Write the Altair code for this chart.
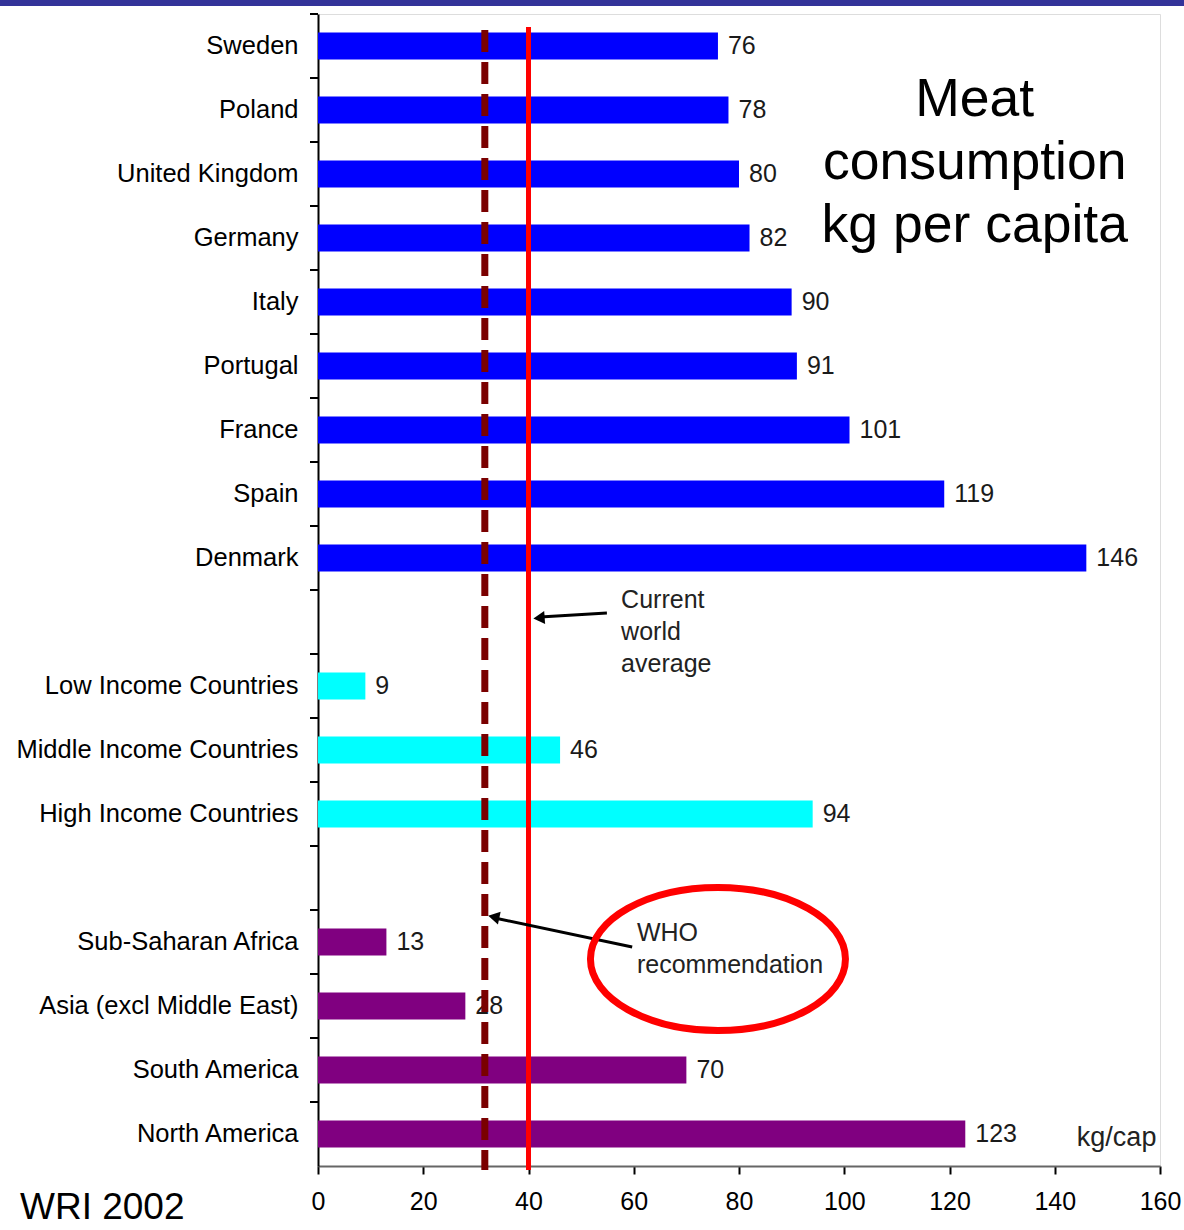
import altair as alt
import pandas as pd

FONT = "Liberation Sans"

categories = ["Sweden", "Poland", "United Kingdom", "Germany", "Italy", "Portugal",
              "France", "Spain", "Denmark", " ",
              "Low Income Countries", "Middle Income Countries", "High Income Countries", "  ",
              "Sub-Saharan Africa", "Asia (excl Middle East)", "South America", "North America"]
values = [76, 78, 80, 82, 90, 91, 101, 119, 146, None, 9, 46, 94, None, 13, 28, 70, 123]
groups = ["country"] * 9 + [None] + ["income"] * 3 + [None] + ["region"] * 4

group_names = ["country", "income", "region"]
group_colors = ["#0000ff", "#00ffff", "#800080"]

world_average = 40
who_recommendation = 31.7
x_ticks = [0, 20, 40, 60, 80, 100, 120, 140, 160]

df = pd.DataFrame({"category": categories, "value": values, "group": groups}).dropna()
one = pd.DataFrame({"k": [0]})

xscale = alt.Scale(domain=[0, 160], nice=False, zero=True)
yscale = alt.Scale(domain=categories, paddingInner=0, paddingOuter=0)

X = alt.X("value:Q", scale=xscale, title=None,
          axis=alt.Axis(values=x_ticks, grid=False, domainColor="#666666", domainWidth=2,
                        tickColor="#000000", tickWidth=2, tickSize=8, labelFontSize=25,
                        labelPadding=15, labelColor="#000000", labelFont=FONT,
                        labelFlush=False, labelOverlap=False))
Y = alt.Y("category:N", scale=yscale, sort=categories, title=None,
          axis=alt.Axis(ticks=False, domainColor="#000000", domainWidth=2, labelFontSize=25.5,
                        labelPadding=20, labelColor="#000000", labelFont=FONT, labelLimit=400))

bars = alt.Chart(df).mark_bar(size=27).encode(
    x=X, y=Y,
    color=alt.Color("group:N", scale=alt.Scale(domain=group_names, range=group_colors), legend=None),
)
labels = alt.Chart(df).mark_text(align="left", baseline="middle", dx=10, fontSize=25,
                                 font=FONT, color="#1a1a1a").encode(
    x=alt.X("value:Q", scale=xscale), y=alt.Y("category:N", scale=yscale, sort=categories),
    text=alt.Text("value:Q"))

ytick_df = pd.DataFrame({"category": categories})
yticks = alt.Chart(ytick_df).mark_rule(color="#000000", strokeWidth=2).encode(
    y=alt.Y("category:N", scale=yscale, sort=categories, bandPosition=0),
    x=alt.value(-8), x2=alt.value(0))

red_line = alt.Chart(one).mark_rule(color="#ff0000", strokeWidth=5).encode(
    x=alt.datum(world_average), y=alt.value(13), y2=alt.value(1156))
who_line = alt.Chart(one).mark_rule(color="#7a0000", strokeWidth=7, strokeDash=[22, 10]).encode(
    x=alt.datum(who_recommendation), y=alt.value(16), y2=alt.value(1156))

arrow1 = alt.Chart(one).mark_rule(color="#000000", strokeWidth=3).encode(
    x=alt.datum(54.9), x2=alt.datum(42.2), y=alt.value(599), y2=alt.value(603))
head1 = alt.Chart(one).mark_point(shape="triangle-left", filled=True, size=170, angle=356,
                                  color="#000000", opacity=1).encode(
    x=alt.datum(42.0), y=alt.value(604))
arrow2 = alt.Chart(one).mark_rule(color="#000000", strokeWidth=3).encode(
    x=alt.datum(59.7), x2=alt.datum(33.6), y=alt.value(933), y2=alt.value(904))
head2 = alt.Chart(one).mark_point(shape="triangle-left", filled=True, size=170, angle=12,
                                  color="#000000", opacity=1).encode(
    x=alt.datum(33.4), y=alt.value(903))

ellipse = alt.Chart(one).mark_point(
    shape="M -1 0 A 1 0.561 0 1 0 1 0 A 1 0.561 0 1 0 -1 0 Z",
    size=65025, filled=False, color="#ff0000", strokeWidth=7, opacity=1).encode(
    x=alt.datum(76.0), y=alt.value(945))

avg_text = alt.Chart(one).mark_text(align="left", baseline="middle", fontSize=25, font=FONT,
                                    color="#222222", lineBreak="\n", lineHeight=32).encode(
    x=alt.datum(57.6), y=alt.value(586), text=alt.value("Current\nworld\naverage"))
who_text = alt.Chart(one).mark_text(align="left", baseline="middle", fontSize=25, font=FONT,
                                    color="#222222", lineBreak="\n", lineHeight=32).encode(
    x=alt.datum(60.6), y=alt.value(919), text=alt.value("WHO\nrecommendation"))
title_text = alt.Chart(one).mark_text(align="center", baseline="middle", fontSize=53.5, font=FONT,
                                      color="#000000", lineBreak="\n", lineHeight=63).encode(
    x=alt.datum(124.8), y=alt.value(86), text=alt.value("Meat\nconsumption\nkg per capita"))
unit_text = alt.Chart(one).mark_text(align="left", baseline="middle", fontSize=27, font=FONT,
                                     color="#222222").encode(
    x=alt.datum(144.2), y=alt.value(1124), text=alt.value("kg/cap"))
source_text = alt.Chart(one).mark_text(align="left", baseline="middle", fontSize=37, font=FONT,
                                       color="#000000").encode(
    x=alt.value(-298), y=alt.value(1194), text=alt.value("WRI 2002"))
top_band = alt.Chart(one).mark_rule(color="#333399", strokeWidth=6).encode(
    x=alt.value(-318), x2=alt.value(866), y=alt.value(-11))

chart = alt.layer(
    bars, labels, yticks, red_line, who_line, arrow1, head1, arrow2, head2, ellipse,
    avg_text, who_text, title_text, unit_text, source_text, top_band
).properties(
    width=842, height=1152,
    autosize=alt.AutoSizeParams(type="none"),
    padding={"left": 318, "top": 14, "right": 24, "bottom": 64},
).configure_view(stroke=None).configure(background="#ffffff")

chart.save("out.html", embed_options={"renderer": "svg", "actions": False})
